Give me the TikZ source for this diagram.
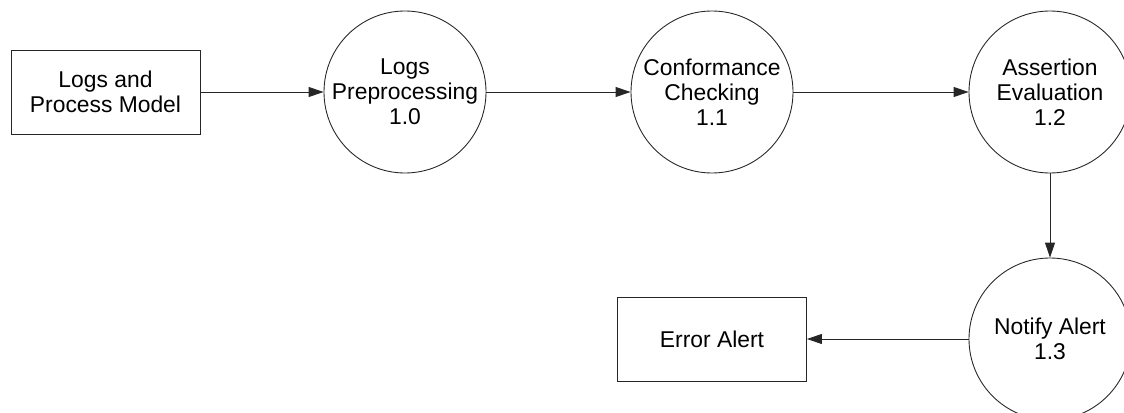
\documentclass[tikz,border=0pt]{standalone}
\usepackage{fontspec}
\setmainfont{Liberation Sans}
\usetikzlibrary{arrows.meta}

\begin{document}
\begin{tikzpicture}[process/.style={circle,draw=black!85,line width=0.5pt,minimum size=3.24cm,inner sep=0pt,align=center,font=\fontsize{13}{14.3}\selectfont}, entity/.style={rectangle,draw=black!85,line width=0.5pt,minimum width=3.78cm,minimum height=1.68cm,align=center,font=\fontsize{13}{14.3}\selectfont}, flow/.style={draw=black!85,line width=0.5pt,-{Triangle[length=0.3cm,width=0.2cm]}}]
       \useasboundingbox (0,0) rectangle (22.48,-8.26);
       \node[entity] (logs) at (2.11, -1.84) {Logs and\\Process Model};
       \node[process] (pre) at (8.10, -1.84) {Logs\\Preprocessing\\1.0};
       \node[process] (conf) at (14.24, -1.84) {Conformance\\Checking\\1.1};
       \node[process] (assert) at (21.0, -1.84) {Assertion\\Evaluation\\1.2};
       \node[process] (notify) at (21.0, -6.78) {Notify Alert\\1.3};
       \node[entity] (error) at (14.24, -6.78) {Error Alert};
       
       \draw[flow] (logs) -- (pre);
       \draw[flow] (pre) -- (conf);
       \draw[flow] (conf) -- (assert);
       \draw[flow] (assert) -- (notify);
       \draw[flow] (notify) -- (error);
     \end{tikzpicture}
\end{document}
